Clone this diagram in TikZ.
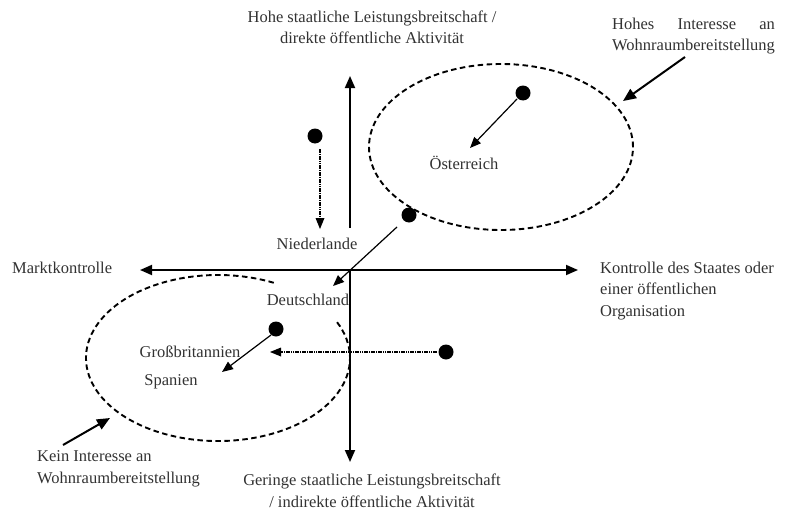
\documentclass[tikz,border=0pt]{standalone}
\usepackage{fontspec}
\setmainfont{Liberation Serif}
\usetikzlibrary{arrows.meta}
\definecolor{txt}{RGB}{50,50,50}
\newlength\hilen
\begin{document}
\begin{tikzpicture}[x=1pt,y=-1pt,
  lbl/.style={font=\fontsize{16.5}{21.5}\selectfont, text=txt, inner sep=0pt},
  axisarrow/.style={line width=1.8pt, -{Triangle[length=12pt,width=10pt]}},
  bigarrow/.style={line width=2pt, -{Triangle[length=13pt,width=11pt]}},
  diagarrow/.style={line width=1.2pt, -{Triangle[length=11pt,width=9pt]}},
  dotarrow/.style={line width=2pt, dash pattern=on 1.6pt off 0.7pt, -{Triangle[length=11pt,width=9pt,line width=0pt]}},
  dashring/.style={line width=1.9pt, dash pattern=on 5.5pt off 3.5pt},
  blob/.style={circle, fill=black, minimum size=15pt, inner sep=0pt}
]
\useasboundingbox (0,0) rectangle (787,511);

% axes
\coordinate (O) at (350,270);
\coordinate (L) at (140,270);
\coordinate (R) at (578,270);
\coordinate (Ut) at (350,228);
\coordinate (U) at (350,76);
\coordinate (D) at (350,462);
\draw[line width=1.8pt, {Triangle[length=12pt,width=10pt]}-{Triangle[length=12pt,width=10pt]}] (L) -- (R);
\draw[axisarrow] (Ut) -- (U);
\draw[axisarrow] (O) -- (D);

% ellipses
\draw[dashring] (501,147) ellipse [x radius=132pt, y radius=83pt];
\draw[dashring] (273.8,282.8) arc[start angle=65, end angle=386, x radius=132pt, y radius=83pt];

% axis labels
\node[lbl, align=center] (top) at (372,27.5) {Hohe staatliche Leistungsbreitschaft /\\ direkte öffentliche Aktivität};
\node[lbl, align=center] (bottom) at (372,491) {Geringe staatliche Leistungsbreitschaft\\ / indirekte öffentliche Aktivität};
\node[lbl, anchor=west] (left) at (12,268) {Marktkontrolle};
\node[lbl, anchor=west, align=left] (right) at (600,291) {Kontrolle des Staates oder\\ einer öffentlichen\\ Organisation};

% interest labels
\node[lbl, anchor=west, align=left] (high) at (612,36) {\settowidth{\hilen}{Wohnraumbereitstellung}\makebox[\hilen][s]{Hohes\hfill Interesse\hfill an}\\ Wohnraumbereitstellung};
\node[lbl, anchor=west, align=left] (none) at (37,469) {Kein Interesse an\\ Wohnraumbereitstellung};
\coordinate (highs) at (685,57);
\coordinate (hight) at (623,101);
\coordinate (nones) at (63,445);
\coordinate (nonet) at (110,418);
\draw[bigarrow] (highs) -- (hight);
\draw[bigarrow] (nones) -- (nonet);

% country labels
\node[lbl] (nl) at (317,244) {Niederlande};
\node[lbl] (at) at (464,163) {Österreich};
\node[lbl] (de) at (308,300) {Deutschland};
\node[lbl] (gb) at (190,352) {Großbritannien};
\node[lbl] (es) at (171,382) {Spanien};

% dots
\node[blob] (dnl) at (315,136) {};
\node[blob] (dat) at (523,93) {};
\node[blob] (dde) at (409,215) {};
\node[blob] (dgb) at (276,329) {};
\node[blob] (des) at (446,352) {};

% movement arrows
\coordinate (nls) at (320,149);
\coordinate (nlt) at (320,229);
\draw[dotarrow] (nls) -- (nlt);
\coordinate (ats) at (517,99);
\coordinate (att) at (470,148);
\draw[diagarrow] (ats) -- (att);
\coordinate (des1) at (397,227);
\coordinate (det) at (333,286);
\draw[diagarrow] (des1) -- (det);
\coordinate (gbs) at (271,335);
\coordinate (gbt) at (222,372);
\draw[diagarrow] (gbs) -- (gbt);
\coordinate (ess) at (437,352);
\coordinate (est) at (270,352);
\draw[dotarrow] (ess) -- (est);
\end{tikzpicture}
\end{document}
